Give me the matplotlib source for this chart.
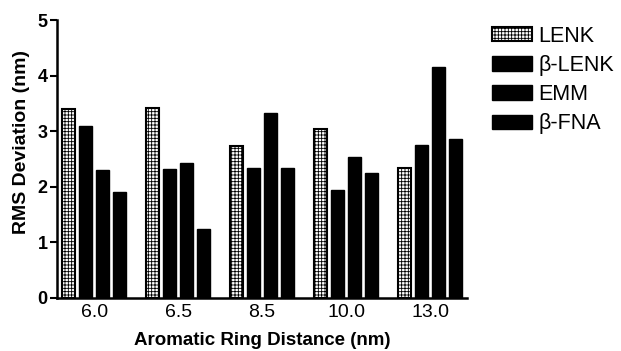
import numpy as np
import matplotlib
matplotlib.use('Agg')
import matplotlib.pyplot as plt

plt.rcParams['font.family'] = ['Liberation Sans', 'DejaVu Sans']
plt.rcParams['hatch.linewidth'] = 0.6

distances = ['6.0', '6.5', '8.5', '10.0', '13.0']
series = ['LENK', 'β-LENK', 'EMM', 'β-FNA']
lenk = [3.40, 3.42, 2.73, 3.04, 2.34]
b_lenk = [3.09, 2.32, 2.34, 1.94, 2.75]
emm = [2.30, 2.43, 3.33, 2.54, 4.16]
b_fna = [1.90, 1.24, 2.34, 2.25, 2.86]
values = [lenk, b_lenk, emm, b_fna]

fig = plt.figure(figsize=(6.21, 3.51), dpi=100)
ax = fig.add_axes([0.092, 0.151, 0.660, 0.792])

x = np.arange(len(distances))
step = 0.2
width = 0.155
for i, (name, vals) in enumerate(zip(series, values)):
    pos = x + (i - 1.5) * step
    if i == 0:
        ax.bar(pos, vals, width, facecolor='white', edgecolor='black',
               hatch='+++++', linewidth=1.5, label=name)
    else:
        ax.bar(pos, vals, width, facecolor='black', edgecolor='black',
               linewidth=1.0, label=name)

ax.set_xlim(-0.44, 4.44)
ax.set_ylim(0, 5)
ax.set_xticks(x)
ax.set_xticklabels(distances, fontsize=14)
ax.set_yticks(range(6))
ax.set_yticklabels([str(v) for v in range(6)], fontsize=13, fontweight='bold')
ax.tick_params(axis='x', length=0, pad=4)
ax.tick_params(axis='y', length=5, width=1.5, direction='out', pad=2)
for s in ['top', 'right']:
    ax.spines[s].set_visible(False)
for s in ['left', 'bottom']:
    ax.spines[s].set_linewidth(1.8)

ax.set_xlabel('Aromatic Ring Distance (nm)', fontsize=13.5, fontweight='bold', labelpad=8)
ax.set_ylabel('RMS Deviation (nm)', fontsize=14, fontweight='bold')
ax.yaxis.set_label_coords(-0.066, 0.56)

ax.legend(loc='upper left', bbox_to_anchor=(1.04, 1.01), frameon=False,
          fontsize=15.5, handlelength=1.85, handleheight=0.65,
          labelspacing=0.38, handletextpad=0.3, borderaxespad=0)

fig.savefig('out.png', dpi=100)
